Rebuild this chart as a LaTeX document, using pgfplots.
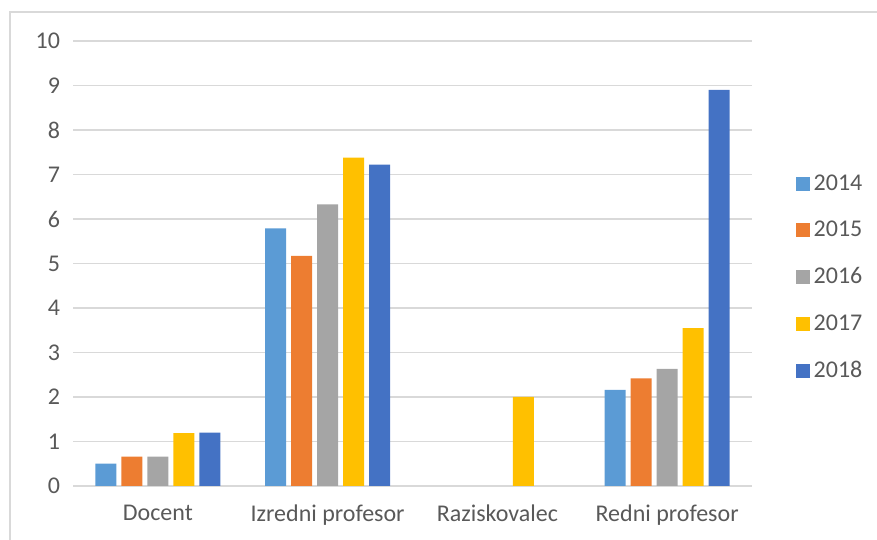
\documentclass[border=0pt]{standalone}
\usepackage{fontspec}
\setmainfont{Carlito}
\usepackage{pgfplots}
\pgfplotsset{compat=1.18}
\definecolor{c14}{HTML}{5B9BD5}
\definecolor{c15}{HTML}{ED7D31}
\definecolor{c16}{HTML}{A5A5A5}
\definecolor{c17}{HTML}{FFC000}
\definecolor{c18}{HTML}{4472C4}
\definecolor{txt}{HTML}{595959}
\definecolor{gridc}{HTML}{D9D9D9}
\begin{document}
\begin{tikzpicture}
\useasboundingbox (0,0) rectangle (438.5pt,270pt);
\draw[gridc, line width=0.6pt] (5pt,0) -- (5pt,264pt) -- (438.5pt,264pt);
\begin{axis}[
  at={(36.5pt,27pt)}, anchor=south west,
  scale only axis, width=339.5pt, height=222.5pt,
  ybar=2.5pt, bar width=10.5pt,
  xmin=-0.5, xmax=3.5, ymin=0, ymax=10,
  xtick={0,1,2,3},
  xticklabels={Docent, Izredni profesor, Raziskovalec, Redni profesor},
  ytick={0,1,...,10},
  /pgf/number format/assume math mode=true,
  axis line style={draw=none},
  major tick length=0pt,
  xmajorgrids=false, ymajorgrids=true,
  grid style={draw=gridc, line width=0.8pt},
  ticklabel style={font=\fontsize{12}{14}\selectfont, text=txt},
  xticklabel style={yshift=-6pt},
  yticklabel style={xshift=-3pt},
  legend style={draw=none, fill=none, at={(1.055,0.468)}, anchor=west,
    font=\fontsize{12}{14}\selectfont, text=txt, row sep=10pt,
    /tikz/every even column/.append style={column sep=3pt}},
  legend image code/.code={\fill[#1] (0pt,-3.5pt) rectangle (7pt,3.5pt);},
]
\addplot[fill=c14, draw=none] coordinates {(0,0.50) (1,5.79) (3,2.16)};
\addplot[fill=c15, draw=none] coordinates {(0,0.66) (1,5.17) (3,2.42)};
\addplot[fill=c16, draw=none] coordinates {(0,0.66) (1,6.33) (3,2.63)};
\addplot[fill=c17, draw=none] coordinates {(0,1.19) (1,7.38) (2,2.00) (3,3.55)};
\addplot[fill=c18, draw=none] coordinates {(0,1.20) (1,7.22) (3,8.90)};
\legend{2014,2015,2016,2017,2018}
\end{axis}
\end{tikzpicture}
\end{document}
